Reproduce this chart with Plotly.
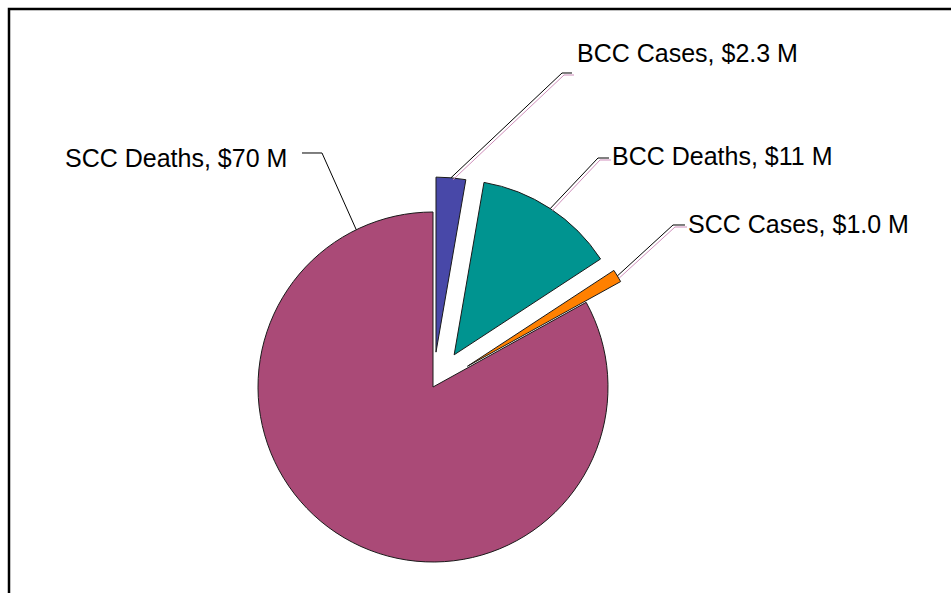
import math
import plotly.graph_objects as go

# ---- data ----
labels = ["BCC Cases", "BCC Deaths", "SCC Cases", "SCC Deaths"]
values = [2.3, 11, 1.0, 70]
value_text = ["$2.3 M", "$11 M", "$1.0 M", "$70 M"]

# ---- style / layout ----
colors = ["#4848A8", "#009490", "#FF8000", "#AA4A77"]
pulls = [0.20, 0.22, 0.23, 0.0]

W, H = 951, 620
CX, CY = 433, 387          # pie centre in pixels
R = 175                    # pie radius in pixels
S = R * (1 + max(pulls))   # half-size of domain so plotly radius == R

dom_x = [(CX - S) / W, (CX + S) / W]
dom_y = [(H - CY - S) / H, (H - CY + S) / H]

FONT = "Liberation Sans, Arial, sans-serif"
FS = 25

# label placement (pixels): text anchor x, y, side, knee point, end of horizontal tick, attach fraction
label_pos = [
    dict(tx=575, ty=53, side="left", knee=(562, 73), end=(572, 73), frac=0.5, shadow=True),
    dict(tx=610, ty=156, side="left", knee=(598, 158), end=(609, 158), frac=0.5, shadow=True),
    dict(tx=686, ty=224, side="left", knee=(673, 225), end=(685, 225), frac=0.5, shadow=True),
    dict(tx=289, ty=158, side="right", knee=(322, 153), end=(302, 153), frac=0.913, shadow=False),
]


def px(x, y):
    return x / W, 1 - y / H


fig = go.Figure()
fig.add_trace(go.Pie(
    labels=labels,
    values=values,
    sort=False,
    direction="clockwise",
    rotation=0,
    pull=pulls,
    marker=dict(colors=colors, line=dict(color="#1a1a1a", width=1)),
    textinfo="none",
    hoverinfo="label+value",
    showlegend=False,
    domain=dict(x=dom_x, y=dom_y),
))

total = sum(values)
shapes = []
annotations = []
cum = 0.0
for i, v in enumerate(values):
    start = cum / total * 360
    span = v / total * 360
    cum += v
    mid = math.radians(start + span / 2)
    off = pulls[i] * R
    vx = CX + off * math.sin(mid)
    vy = CY - off * math.cos(mid)
    lp = label_pos[i]
    a = math.radians(start + lp["frac"] * span)
    ax_ = vx + R * math.sin(a)
    ay_ = vy - R * math.cos(a)
    pts = [(ax_, ay_), lp["knee"], lp["end"]]
    if lp["shadow"]:
        sp = [(x + 2, y + 2) for x, y in pts]
        path = "M " + " L ".join("%.5f,%.5f" % px(x, y) for x, y in sp)
        shapes.append(dict(type="path", xref="paper", yref="paper", path=path,
                           line=dict(color="#CF8FBB", width=1)))
    path = "M " + " L ".join("%.5f,%.5f" % px(x, y) for x, y in pts)
    shapes.append(dict(type="path", xref="paper", yref="paper", path=path,
                       line=dict(color="#000000", width=1)))
    tx, ty = px(lp["tx"], lp["ty"])
    annotations.append(dict(
        x=tx, y=ty, xref="paper", yref="paper",
        text=f"{labels[i]}, {value_text[i]}",
        showarrow=False,
        xanchor=lp["side"], yanchor="middle",
        font=dict(family=FONT, size=FS, color="#000000"),
    ))

# chart border (extends past the visible window)
x0, y1 = px(9, 9)
shapes.append(dict(type="rect", xref="paper", yref="paper",
                   x0=x0, y0=-0.05, x1=1.05, y1=y1,
                   line=dict(color="#000000", width=2.5), fillcolor="rgba(0,0,0,0)"))

fig.update_layout(
    width=W, height=H,
    margin=dict(l=0, r=0, t=0, b=0),
    paper_bgcolor="white",
    plot_bgcolor="white",
    shapes=shapes,
    annotations=annotations,
    font=dict(family=FONT, size=FS, color="#000000"),
)

fig.write_html(
    "out.html",
    config={"displayModeBar": False},
    post_script="document.body.style.margin='0';document.body.style.overflow='hidden';",
)
